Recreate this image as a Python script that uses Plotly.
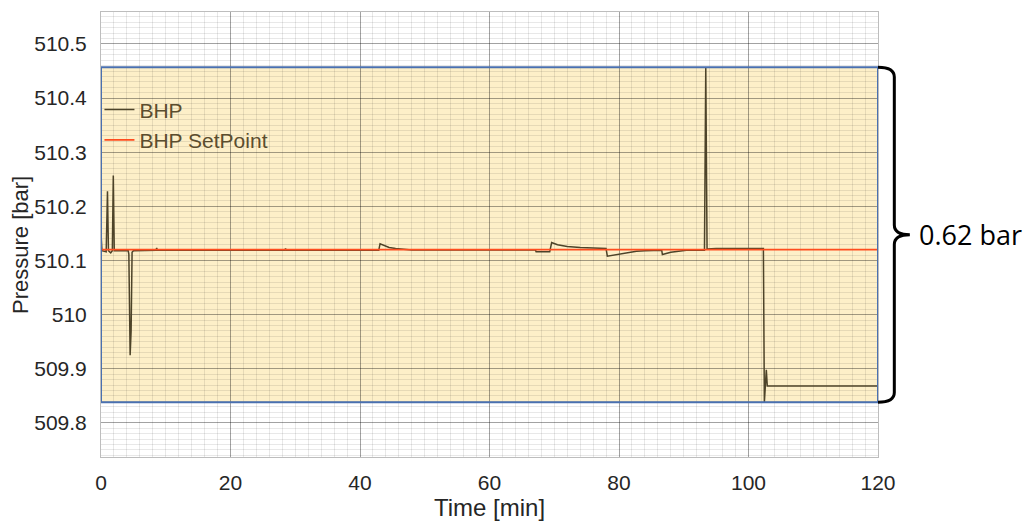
import plotly.graph_objects as go

# ---------------- data ----------------
time_min = [0.0, 0.15, 0.8, 1.0, 1.15, 1.5, 1.75, 1.9, 2.05, 4.2, 4.3, 4.5, 4.65, 4.8, 5.0,
            8.5, 8.6, 8.7, 28.4, 28.5, 28.6,
            42.9, 43.1, 43.6, 44.5, 45.5, 46.5, 48.0,
            67.1, 67.2, 69.3, 69.6, 70.5, 72.0, 74.0, 76.0, 78.0, 78.2, 80.0, 82.7, 84.0,
            86.6, 86.7, 88.0, 90.4, 93.2, 93.4, 93.6, 95.0, 102.3, 102.45, 102.75, 102.9, 120.0]
bhp_bar = [510.150, 510.118, 510.116, 510.228, 510.118, 510.114, 510.118, 510.257, 510.118,
           510.118, 510.112, 509.925, 509.970, 510.115, 510.118,
           510.119, 510.123, 510.119, 510.119, 510.122, 510.119,
           510.119, 510.131, 510.128, 510.124, 510.122, 510.121, 510.1195,
           510.1195, 510.116, 510.116, 510.133, 510.129, 510.126, 510.124, 510.1225, 510.122,
           510.108, 510.112, 510.117, 510.118,
           510.119, 510.111, 510.115, 510.119, 510.119, 510.457, 510.121, 510.122, 510.122,
           509.838, 509.898, 509.868, 509.868]
setpoint_time = [0.0, 120.0]
setpoint_bar = [510.12, 510.12]

x_ticks = [0, 20, 40, 60, 80, 100, 120]
y_ticks = [509.8, 509.9, 510.0, 510.1, 510.2, 510.3, 510.4, 510.5]
y_tick_labels = ["509.8", "509.9", "510", "510.1", "510.2", "510.3", "510.4", "510.5"]

x_title = "Time [min]"
y_title = "Pressure [bar]"

# ---------------- figure ----------------
p_max = max(bhp_bar)
p_min = min(bhp_bar)
p_mid = (p_max + p_min) / 2
span_text = f"{p_max - p_min:.2f} bar"

FAM = "Liberation Sans, Arial, sans-serif"
tick_font = dict(family=FAM, size=21, color="#262626")

fig = go.Figure()
fig.add_trace(go.Scatter(x=time_min, y=bhp_bar, mode="lines", name="BHP",
                         line=dict(color="#4d4329", width=1.5)))
fig.add_trace(go.Scatter(x=setpoint_time, y=setpoint_bar, mode="lines", name="BHP SetPoint",
                         line=dict(color="#ff4d1f", width=1.8)))

# shaded band between min and max
fig.add_shape(type="rect", xref="x", yref="y", x0=0, x1=120, y0=p_min, y1=p_max,
              fillcolor="#fdefc8", line=dict(width=0), layer="below")
fig.add_shape(type="rect", xref="x", yref="y", x0=0, x1=120, y0=p_min, y1=p_max,
              fillcolor="rgba(0,0,0,0)", line=dict(color="#4a70b0", width=2), layer="above")

# curly brace to the right of the plot
r = 0.018
x0, xs, xt = 1.0, 1.021, 1.041
path = (f"M {x0},{p_max} Q {xs},{p_max} {xs},{p_max - r} "
        f"L {xs},{p_mid + r} Q {xs},{p_mid} {xt},{p_mid} "
        f"Q {xs},{p_mid} {xs},{p_mid - r} "
        f"L {xs},{p_min + r} Q {xs},{p_min} {x0},{p_min}")
fig.add_shape(type="path", xref="paper", yref="y", path=path,
              line=dict(color="black", width=3))
fig.add_annotation(x=1.050, y=p_mid, xref="paper", yref="y", text=span_text,
                   showarrow=False, xanchor="left", yanchor="middle",
                   font=dict(family="Open Sans, sans-serif", size=27, color="black"))

# axis titles
fig.add_annotation(x=0.5006, y=-0.1146, xref="paper", yref="paper", text=x_title,
                   showarrow=False, xanchor="center", yanchor="middle",
                   font=dict(family=FAM, size=24, color="#262626"))
fig.add_annotation(x=-0.1045, y=0.476, xref="paper", yref="paper", text=y_title,
                   showarrow=False, xanchor="center", yanchor="middle", textangle=-90,
                   font=dict(family=FAM, size=22, color="#262626"))

grid_major = "rgba(0,0,0,0.30)"
grid_minor = "rgba(0,0,0,0.09)"

fig.update_xaxes(range=[0, 120], tickvals=x_ticks, showgrid=True, gridcolor=grid_major,
                 gridwidth=1, zeroline=False, showline=True, linecolor="#bdbdbd",
                 mirror=True, ticks="", tickfont=tick_font, ticklabelstandoff=7,
                 automargin=False,
                 minor=dict(dtick=2, showgrid=True, gridcolor=grid_minor, gridwidth=1))
fig.update_yaxes(range=[509.737, 510.559], tickvals=y_ticks, ticktext=y_tick_labels,
                 showgrid=True, gridcolor=grid_major, gridwidth=1, zeroline=False,
                 showline=True, linecolor="#bdbdbd", mirror=True, ticks="",
                 tickfont=tick_font, ticklabelstandoff=9, automargin=False,
                 minor=dict(dtick=0.01, tick0=509.8, showgrid=True, gridcolor=grid_minor,
                            gridwidth=1))

fig.update_layout(
    width=1029, height=522, autosize=False,
    margin=dict(l=101, r=151, t=12, b=65),
    paper_bgcolor="white", plot_bgcolor="white",
    legend=dict(x=-0.002, y=0.826, xanchor="left", yanchor="top",
                bgcolor="rgba(0,0,0,0)", itemwidth=30,
                font=dict(family=FAM, size=21, color="#5b4d2f"), tracegroupgap=0),
    showlegend=True,
)

fig.write_html("out.html")
